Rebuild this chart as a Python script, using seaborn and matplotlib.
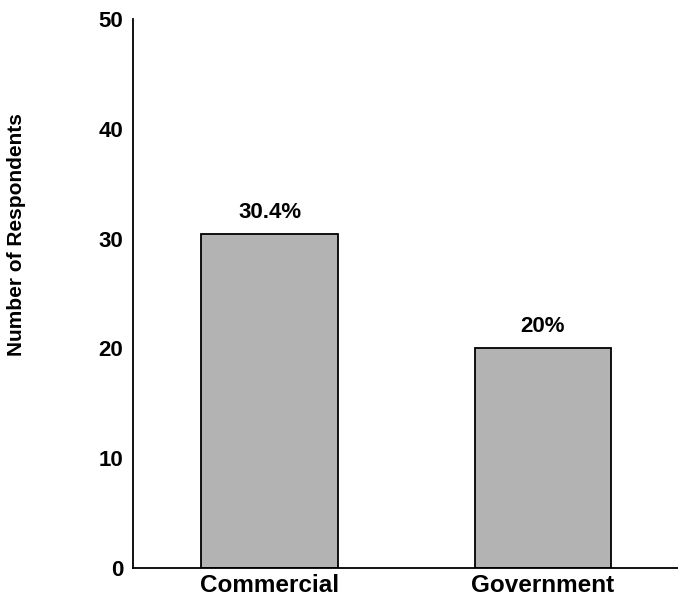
import matplotlib
matplotlib.use("Agg")
import matplotlib.pyplot as plt
import seaborn as sns
import pandas as pd

categories = ["Commercial", "Government"]
respondents = [30.4, 20.0]
value_labels = ["30.4%", "20%"]
y_ticks = [0, 10, 20, 30, 40, 50]

sns.set_theme(style="white")
plt.rcParams["font.family"] = ["Liberation Sans", "DejaVu Sans"]
plt.rcParams["font.weight"] = "bold"
plt.rcParams["text.color"] = "black"
plt.rcParams["xtick.color"] = "black"
plt.rcParams["ytick.color"] = "black"

df = pd.DataFrame({"sector": categories, "count": respondents})

fig = plt.figure(figsize=(6.78, 5.97), dpi=100)
ax = fig.add_axes([0.1962, 0.0486, 0.806, 0.9196])

sns.barplot(data=df, x="sector", y="count", color="#b3b3b3", saturation=1,
            width=0.5, edgecolor="black", linewidth=1.3, ax=ax)

ax.set_xlim(-0.5, 1.5)
ax.set_ylim(0, 50)
ax.set_yticks(y_ticks)
ax.set_yticklabels([str(t) for t in y_ticks], fontsize=16, fontweight="bold")
ax.tick_params(axis="y", direction="in", length=8, width=1.2, pad=7)
ax.tick_params(axis="x", length=0, pad=4, labelsize=17.5)
for lbl in ax.get_xticklabels():
    lbl.set_fontweight("bold")
ax.set_xlabel("")
ax.set_ylabel("")

for side in ["top", "right"]:
    ax.spines[side].set_visible(False)
for side in ["left", "bottom"]:
    ax.spines[side].set_color("black")
    ax.spines[side].set_linewidth(1.3)

for i, (v, txt) in enumerate(zip(respondents, value_labels)):
    ax.annotate(txt, xy=(i, v), xytext=(0, 8), textcoords="offset points",
                ha="center", va="bottom", fontsize=16, fontweight="bold")

fig.text(17 / 678, 1 - 235 / 597, "Number of Respondents", rotation=90,
         ha="center", va="center", fontsize=15, fontweight="bold")

fig.savefig("out.png", dpi=100)
